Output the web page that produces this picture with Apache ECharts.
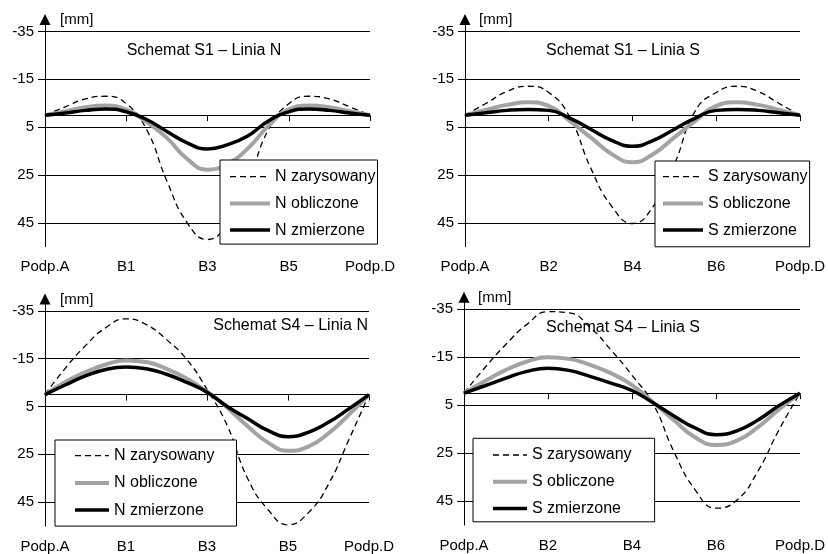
<!DOCTYPE html>
<html>
<head>
<meta charset="utf-8">
<script src="https://cdn.jsdelivr.net/npm/echarts@6/dist/echarts.min.js"></script>
<style>html,body{margin:0;padding:0;background:#fff}#c{width:828px;height:554px}</style>
</head>
<body>
<div id="c"></div>
<script>
// ---- data ----
const stations = [0, 0.25, 0.5, 0.75, 1, 1.25, 1.5, 1.75, 2, 2.25, 2.5, 2.75, 3, 3.25, 3.5, 3.75, 4];
const labelsN = ['Podp.A', 'B1', 'B3', 'B5', 'Podp.D'];
const labelsS = ['Podp.A', 'B2', 'B4', 'B6', 'Podp.D'];
const yTicks = [-35, -15, 5, 25, 45];
const titles = ['Schemat S1 \u2013 Linia N', 'Schemat S1 \u2013 Linia S', 'Schemat S4 \u2013 Linia N', 'Schemat S4 \u2013 Linia S'];
const namesN = ['N zarysowany', 'N obliczone', 'N zmierzone'];
const namesS = ['S zarysowany', 'S obliczone', 'S zmierzone'];

const s1N_zarys = [0, -3.5, -6.8, -7.9, -4.8, 6.0, 27.5, 45, 52, 45, 28, 6.0, -4.8, -7.9, -6.8, -3.5, 0];
const s1N_oblicz = [0, -1.6, -3.3, -4.0, -2.4, 2.8, 9.5, 18.3, 22.8, 20.2, 13.8, 4.5, -2.4, -4.0, -3.3, -1.6, 0];
const s1N_zmierz = [0, -0.9, -2.0, -2.6, -1.4, 1.8, 6.8, 11.6, 14.1, 12.3, 8.6, 2.4, -1.4, -2.6, -2.0, -0.9, 0];

const s1S_zarys = [0, -4.9, -9.9, -12.1, -9.5, 0.8, 22, 38, 45.3, 38, 20.5, -1.8, -9.5, -12.1, -9.9, -4.9, 0];
const s1S_oblicz = [0, -2.2, -4.3, -5.4, -3.9, 2.4, 9.3, 16.2, 19.7, 16.2, 9.3, 2.4, -3.9, -5.4, -4.3, -2.2, 0];
const s1S_zmierz = [0, -1.0, -2.0, -2.4, -2.0, 1.2, 5.9, 10.5, 13.0, 10.5, 5.9, 1.2, -2.0, -2.4, -2.0, -1.0, 0];

const s4N_zarys = [0, -11, -20.5, -28, -31.7, -29.3, -23, -14.7, -2.2, 13, 35, 48, 54.5, 49.5, 37.5, 19, 0];
const s4N_oblicz = [0, -5.3, -9.4, -12.6, -14.3, -13.6, -10.8, -6.7, -1.2, 5.5, 13.2, 20, 23.5, 21.8, 16.2, 8.5, 0];
const s4N_zmierz = [0, -4.0, -7.8, -10.5, -11.5, -10.8, -8.5, -5.1, -1.0, 5, 10, 15, 17.6, 15.8, 11.6, 6, 0];

const s4S_zarys = [0, -10.7, -20.4, -28.7, -34.0, -33.5, -27.5, -18, -7.5, 4.4, 24.5, 40.2, 48, 44.6, 32.5, 15.3, 0];
const s4S_oblicz = [0, -5.1, -9.7, -13.2, -15, -14.3, -11.8, -8.3, -3.4, 3.8, 11.3, 18.4, 21.6, 19.8, 14.2, 6.8, 0];
const s4S_zmierz = [0, -3.1, -6.3, -9.1, -10.4, -9.5, -7.0, -4.2, -1.1, 4.0, 9.5, 14.5, 17.3, 15.7, 11.2, 5.2, 0];

// ---- layout ----
const FONT = 'Liberation Sans, Arial, Helvetica, sans-serif';
const panels = [
  { grid: {left: 45, top: 19.5, width: 325, height: 227.2}, labels: labelsN, names: namesN,
    data: [s1N_zarys, s1N_oblicz, s1N_zmierz],
    title: {left: 204, top: 43, align: 'center'}, unit: {left: 60, top: 12},
    legend: {left: 220, top: 160, padding: [8.7, 2, 6, 8], itemWidth: 40, itemGap: 10.7} },
  { grid: {left: 465, top: 19.5, width: 335, height: 227.2}, labels: labelsS, names: namesS,
    data: [s1S_zarys, s1S_oblicz, s1S_zmierz],
    title: {left: 623, top: 43, align: 'center'}, unit: {left: 479, top: 12},
    legend: {left: 655, top: 161, padding: [7.7, 2, 8.7, 6], itemWidth: 40, itemGap: 10.7} },
  { grid: {left: 45, top: 299, width: 324, height: 227.7}, labels: labelsN, names: namesN,
    data: [s4N_zarys, s4N_oblicz, s4N_zmierz],
    title: {left: 368, top: 318, align: 'right'}, unit: {left: 60, top: 292.5},
    legend: {left: 55, top: 440, padding: [7.7, 22, 8, 18], itemWidth: 34, itemGap: 11.2} },
  { grid: {left: 464, top: 297.3, width: 336, height: 227.7}, labels: labelsS, names: namesS,
    data: [s4S_zarys, s4S_oblicz, s4S_zmierz],
    title: {left: 623, top: 320, align: 'center'}, unit: {left: 478, top: 290},
    legend: {left: 473, top: 438.3, padding: [8.7, 23, 5.4, 18], itemWidth: 34, itemGap: 10.7} }
];

const lineStyles = [
  {color: '#000', width: 1.3, type: [6, 4]},
  {color: '#a3a3a3', width: 4, type: 'solid'},
  {color: '#000', width: 3.5, type: 'solid'}
];

const option = {
  animation: false,
  backgroundColor: '#fff',
  textStyle: {fontFamily: FONT},
  grid: [], xAxis: [], yAxis: [], series: [], title: [], legend: []
};

panels.forEach((p, i) => {
  option.grid.push(Object.assign({containLabel: false}, p.grid));
  // label axis at bottom
  option.xAxis.push({
    gridIndex: i, type: 'value', min: 0, max: 4, interval: 1, position: 'bottom',
    axisLine: {show: false, onZero: false}, axisTick: {show: false}, splitLine: {show: false},
    axisLabel: {formatter: v => p.labels[Math.round(v)], fontSize: 15, color: '#000', margin: 13,
      fontFamily: FONT, showMinLabel: true, showMaxLabel: true}
  });
  // zero line axis
  option.xAxis.push({
    gridIndex: i, type: 'value', min: 0, max: 4, interval: 1, position: 'bottom',
    axisLine: {show: true, onZero: true, lineStyle: {color: '#000', width: 1}},
    axisTick: {show: true, length: 6, lineStyle: {color: '#000', width: 1}},
    axisLabel: {show: false}, splitLine: {show: false}
  });
  option.yAxis.push({
    gridIndex: i, type: 'value', inverse: true, min: -40, max: 55,
    axisLine: {show: true, onZero: false, symbol: ['none', 'triangle'], symbolSize: [11, 11],
      lineStyle: {color: '#000', width: 1}},
    axisTick: {show: true, length: 7, customValues: yTicks, lineStyle: {color: '#000', width: 1}},
    axisLabel: {customValues: yTicks, fontSize: 15, color: '#000', margin: 11, fontFamily: FONT},
    splitLine: {show: true, lineStyle: {color: '#000', width: 1}}
  });
  p.data.forEach((arr, k) => {
    option.series.push({
      type: 'line', name: p.names[k], xAxisIndex: i * 2, yAxisIndex: i,
      data: stations.map((x, j) => [x, arr[j]]),
      smooth: 0.5, symbol: 'none', lineStyle: lineStyles[k], itemStyle: {color: lineStyles[k].color},
      z: 2 + k
    });
  });
  option.title.push({
    text: titles[i], left: p.title.left, top: p.title.top, padding: 0, textAlign: p.title.align,
    textStyle: {fontSize: 16, fontWeight: 'normal', color: '#000', fontFamily: FONT}
  });
  option.title.push({
    text: '[mm]', left: p.unit.left, top: p.unit.top, padding: 0,
    textStyle: {fontSize: 15, fontWeight: 'normal', color: '#000', fontFamily: FONT}
  });
  option.legend.push({
    data: p.names, orient: 'vertical', left: p.legend.left, top: p.legend.top,
    padding: p.legend.padding, itemWidth: p.legend.itemWidth, itemHeight: 12, itemGap: p.legend.itemGap,
    backgroundColor: '#fff', borderColor: '#000', borderWidth: 1, borderRadius: 0,
    selectedMode: false, z: 10,
    itemStyle: {opacity: 0, color: 'rgba(0,0,0,0)', borderWidth: 0},
    lineStyle: {width: 'inherit', color: 'inherit', type: 'inherit'},
    textStyle: {fontSize: 16, color: '#000', fontFamily: FONT}
  });
});

const chart = echarts.init(document.getElementById('c'), null, {renderer: 'canvas'});
chart.setOption(option);
</script>
</body>
</html>
